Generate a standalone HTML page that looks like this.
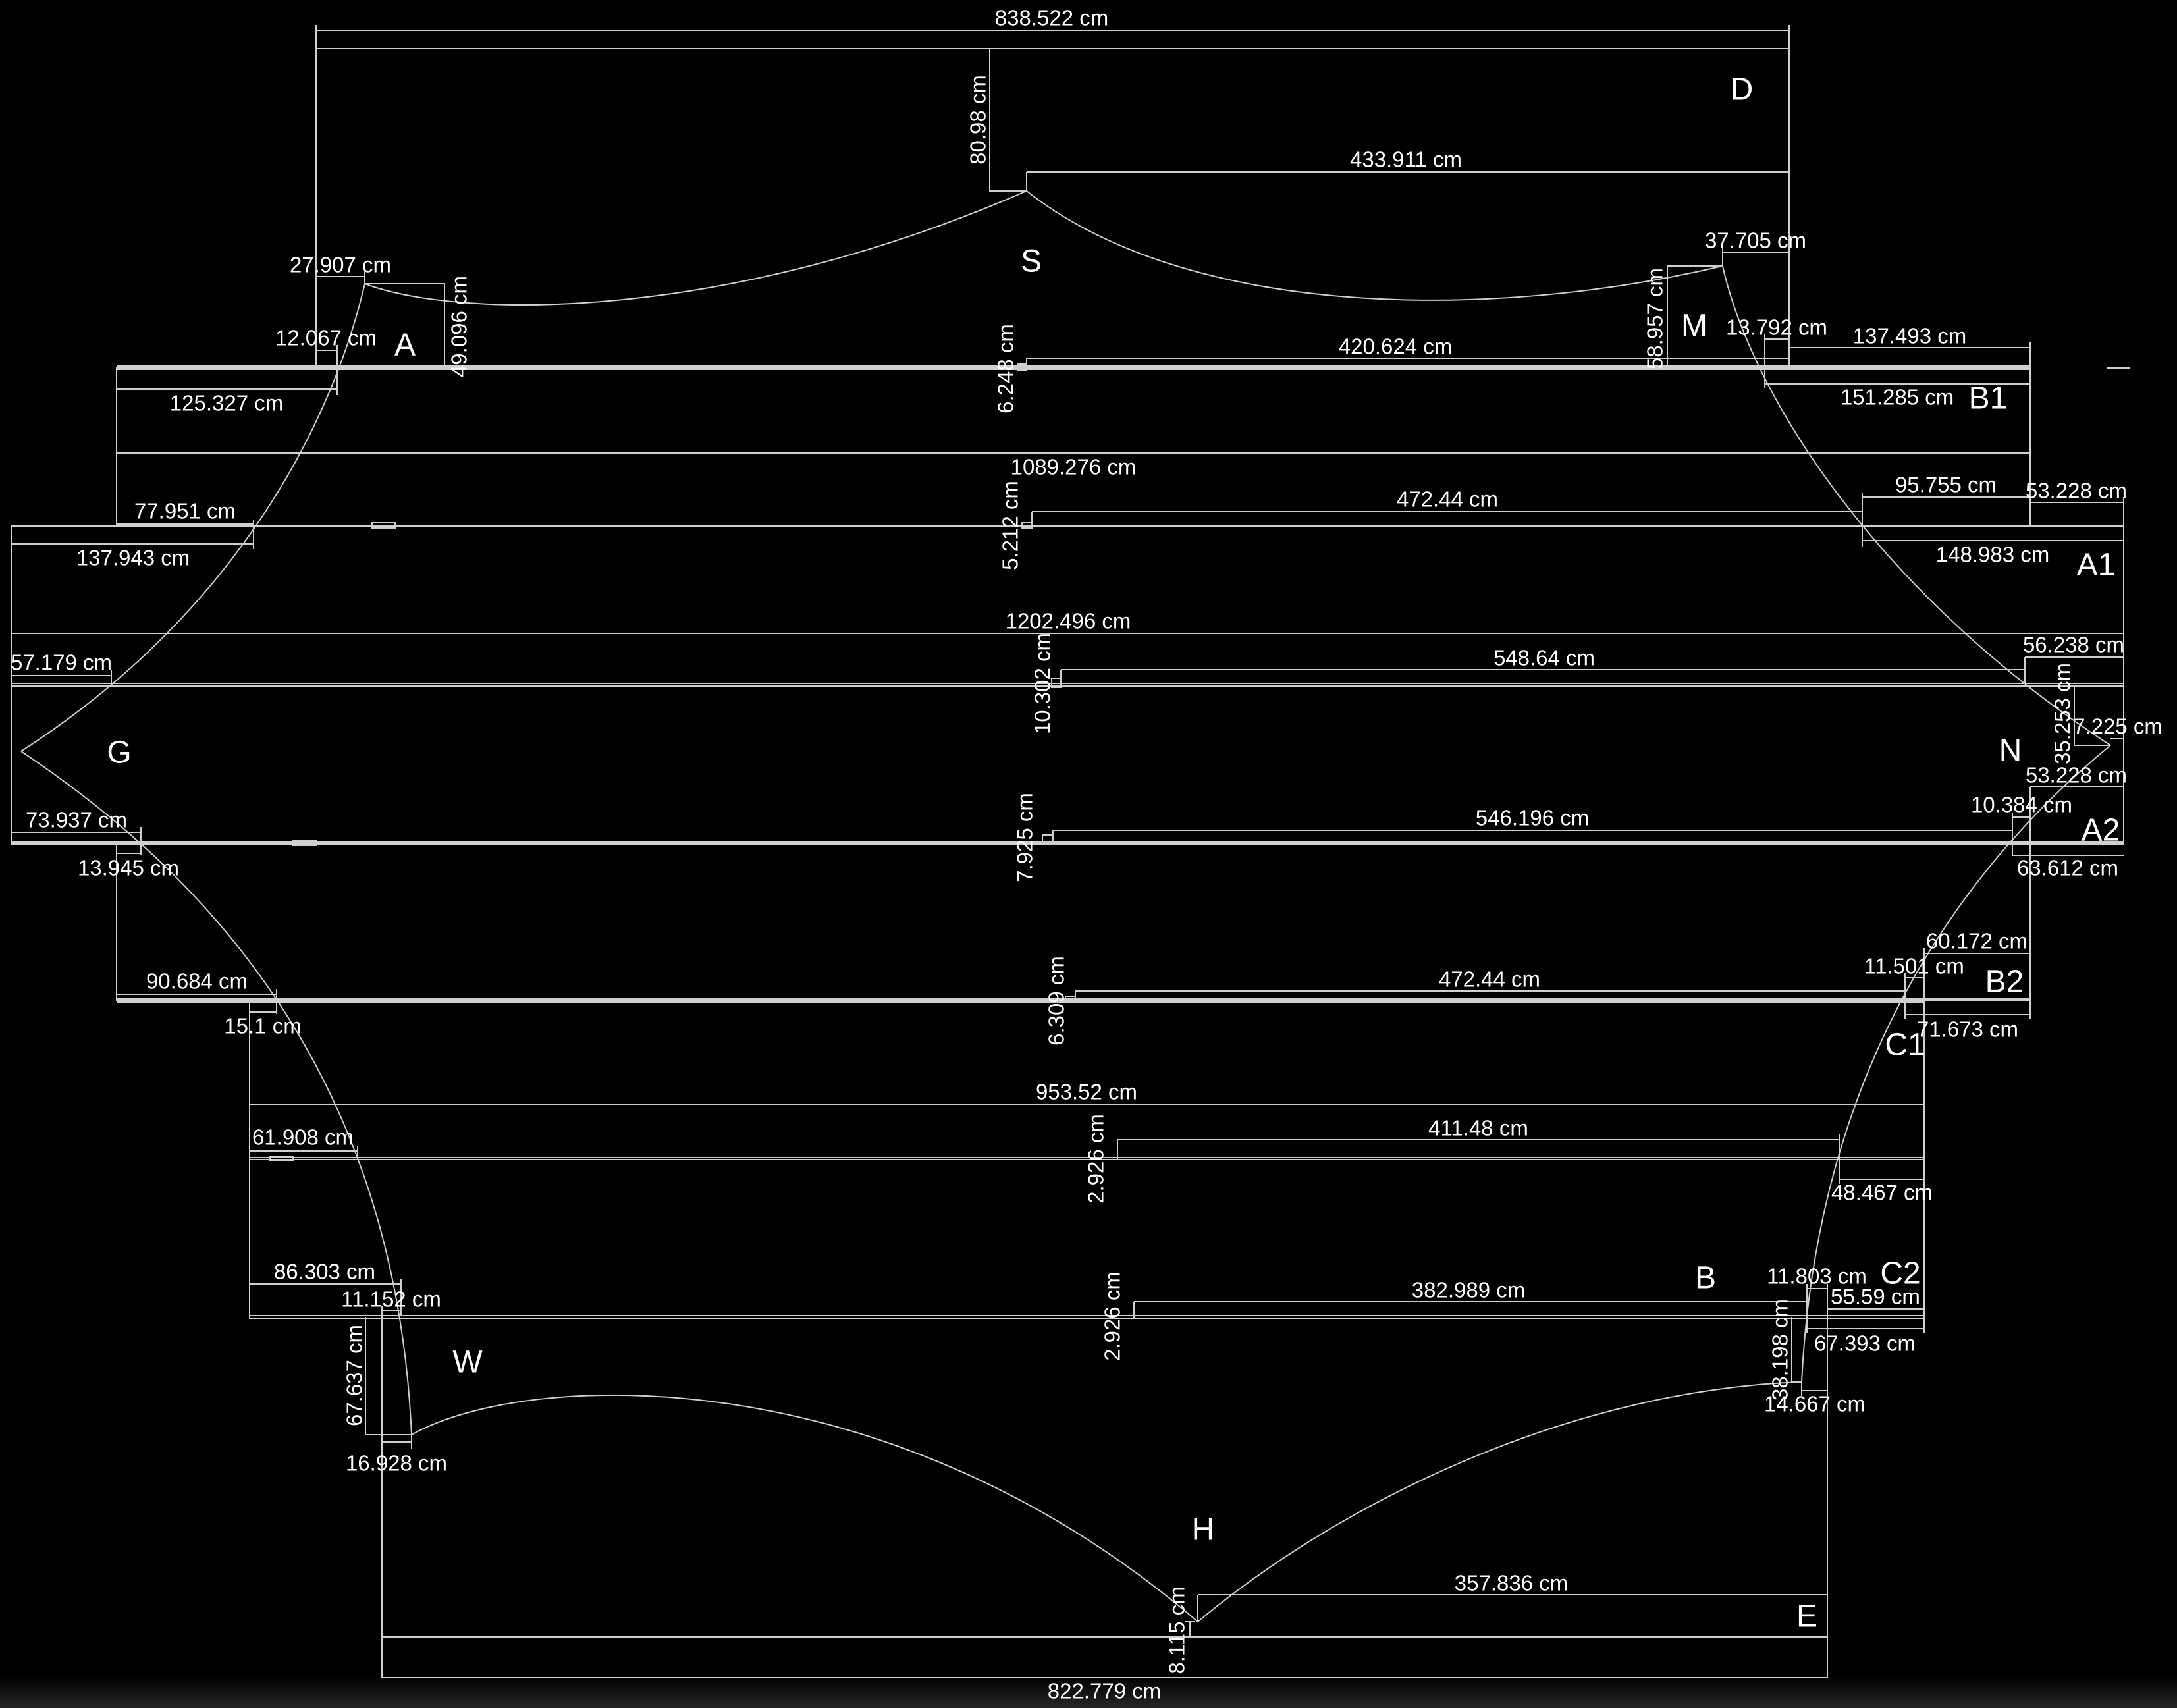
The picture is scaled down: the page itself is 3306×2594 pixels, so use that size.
<!DOCTYPE html>
<html><head><meta charset="utf-8"><style>
html,body{margin:0;padding:0;background:#000;}
svg{display:block;}
text{font-family:"Liberation Sans",sans-serif;fill:#fff;}
.d{font-size:33px;}
.l{font-size:48px;}
</style></head><body>
<svg width="3306" height="2594" viewBox="0 0 3306 2594" xmlns="http://www.w3.org/2000/svg">
<defs><linearGradient id="g" x1="0" y1="0" x2="0" y2="1"><stop offset="0" stop-color="#000"/><stop offset="1" stop-color="#262626"/></linearGradient></defs>
<rect width="3306" height="2594" fill="#000"/>
<rect x="0" y="2545" width="3306" height="49" fill="url(#g)"/>
<g fill="none" stroke="#cfcfcf" stroke-width="2">
<rect x="480" y="74" width="2237" height="485"/>
<line x1="480" y1="46" x2="2717" y2="46"/><line x1="480" y1="38" x2="480" y2="74"/><line x1="2717" y1="38" x2="2717" y2="74"/>
<polyline points="1503,74 1503,290 1559,290"/>
<line x1="1559" y1="261" x2="2717" y2="261"/><line x1="1559" y1="261" x2="1559" y2="290"/>
<line x1="480" y1="420" x2="554" y2="420"/><line x1="554" y1="412" x2="554" y2="431"/>
<polyline points="554,431 675,431 675,559"/>
<line x1="480" y1="532" x2="512" y2="532"/><line x1="512" y1="524" x2="512" y2="600"/>
<line x1="177" y1="591" x2="512" y2="591"/>
<polyline points="2616,404 2532,404 2532,559"/>
<line x1="2616" y1="383" x2="2717" y2="383"/><line x1="2616" y1="375" x2="2616" y2="404"/>
<line x1="2680" y1="515" x2="2717" y2="515"/><line x1="2680" y1="508" x2="2680" y2="590"/>
<line x1="2680" y1="583" x2="3083" y2="583"/>
<line x1="2717" y1="528" x2="3083" y2="528"/><line x1="3083" y1="520" x2="3083" y2="559"/>
<line x1="3200" y1="559" x2="3235" y2="559"/>
<line x1="177" y1="556" x2="3083" y2="556"/><line x1="177" y1="561" x2="3083" y2="561"/>
<line x1="1559" y1="544" x2="2717" y2="544"/><line x1="1559" y1="544" x2="1559" y2="561"/>
<rect x="1545" y="553" width="14" height="10"/>
<rect x="177" y="559" width="2906" height="240"/>
<line x1="177" y1="688" x2="3083" y2="688"/>
<line x1="177" y1="796" x2="385" y2="796"/>
<line x1="17" y1="826" x2="385" y2="826"/><line x1="385" y1="790" x2="385" y2="834"/>
<line x1="2828" y1="755" x2="3083" y2="755"/><line x1="2828" y1="748" x2="2828" y2="830"/>
<line x1="2828" y1="821" x2="3225" y2="821"/>
<line x1="3083" y1="763" x2="3225" y2="763"/><line x1="3225" y1="755" x2="3225" y2="799"/>
<line x1="1567" y1="777" x2="2828" y2="777"/><line x1="1567" y1="777" x2="1567" y2="799"/>
<rect x="1552" y="794" width="15" height="8"/>
<rect x="565" y="794" width="35" height="8"/>
<rect x="17" y="799" width="3208" height="481"/>
<line x1="17" y1="962" x2="3225" y2="962"/>
<line x1="17" y1="1038" x2="3225" y2="1038"/><line x1="17" y1="1042" x2="3225" y2="1042"/>
<line x1="17" y1="1026" x2="169" y2="1026"/><line x1="169" y1="1018" x2="169" y2="1038"/>
<line x1="3075" y1="998" x2="3225" y2="998"/><line x1="3075" y1="998" x2="3075" y2="1038"/>
<line x1="1611" y1="1017" x2="3075" y2="1017"/><line x1="1611" y1="1017" x2="1611" y2="1042"/>
<rect x="1597" y="1030" width="14" height="14"/>
<polyline points="3150,1042 3150,1132 3205,1132"/>
<line x1="3205" y1="1122" x2="3225" y2="1122"/>
<line x1="3083" y1="1195" x2="3225" y2="1195"/><line x1="3083" y1="1195" x2="3083" y2="1300"/>
<line x1="3056" y1="1241" x2="3083" y2="1241"/><line x1="3056" y1="1234" x2="3056" y2="1300"/>
<line x1="3056" y1="1299" x2="3225" y2="1299"/>
<line x1="17" y1="1264" x2="214" y2="1264"/><line x1="214" y1="1256" x2="214" y2="1298"/>
<line x1="1599" y1="1261" x2="3056" y2="1261"/><line x1="1599" y1="1261" x2="1599" y2="1282"/>
<rect x="1583" y="1268" width="16" height="14"/>
<rect x="445" y="1276" width="35" height="8"/>
<line x1="17" y1="1278" x2="3225" y2="1278"/><line x1="17" y1="1282" x2="3225" y2="1282"/>
<rect x="177" y="1282" width="2906" height="238"/>
<line x1="177" y1="1296" x2="214" y2="1296"/>
<line x1="177" y1="1510" x2="420" y2="1510"/><line x1="420" y1="1502" x2="420" y2="1540"/>
<line x1="1633" y1="1505" x2="2893" y2="1505"/><line x1="1633" y1="1505" x2="1633" y2="1522"/>
<rect x="1618" y="1513" width="15" height="10"/>
<line x1="177" y1="1517" x2="3083" y2="1517"/><line x1="177" y1="1522" x2="2922" y2="1522"/>
<line x1="2922" y1="1448" x2="3083" y2="1448"/><line x1="2922" y1="1440" x2="2922" y2="1519"/>
<line x1="2893" y1="1485" x2="2922" y2="1485"/><line x1="2893" y1="1478" x2="2893" y2="1548"/>
<line x1="2893" y1="1541" x2="3083" y2="1541"/><line x1="3083" y1="1520" x2="3083" y2="1548"/>
<line x1="379" y1="1537" x2="420" y2="1537"/>
<rect x="379" y="1519" width="2543" height="483"/>
<line x1="379" y1="1677" x2="2922" y2="1677"/>
<line x1="379" y1="1758" x2="2922" y2="1758"/><line x1="379" y1="1761" x2="2922" y2="1761"/>
<line x1="379" y1="1748" x2="543" y2="1748"/><line x1="543" y1="1740" x2="543" y2="1758"/>
<rect x="410" y="1756" width="35" height="7"/>
<line x1="1697" y1="1731" x2="2793" y2="1731"/><line x1="1697" y1="1731" x2="1697" y2="1761"/>
<line x1="2793" y1="1723" x2="2793" y2="1798"/><line x1="2793" y1="1791" x2="2922" y2="1791"/>
<line x1="379" y1="1950" x2="609" y2="1950"/><line x1="609" y1="1942" x2="609" y2="1998"/>
<line x1="580" y1="1990" x2="609" y2="1990"/><line x1="580" y1="1984" x2="580" y2="1998"/>
<line x1="1722" y1="1977" x2="2744" y2="1977"/><line x1="1722" y1="1977" x2="1722" y2="2002"/>
<line x1="2744" y1="1957" x2="2775" y2="1957"/><line x1="2744" y1="1950" x2="2744" y2="2025"/>
<line x1="2775" y1="1950" x2="2775" y2="1998"/>
<line x1="2775" y1="1988" x2="2922" y2="1988"/>
<line x1="379" y1="1998" x2="2922" y2="1998"/>
<line x1="2742" y1="2018" x2="2922" y2="2018"/><line x1="2922" y1="2002" x2="2922" y2="2025"/>
<rect x="580" y="1998" width="2195" height="550"/>
<line x1="580" y1="2486" x2="2775" y2="2486"/>
<polyline points="555,2000 555,2179 625,2179"/>
<line x1="580" y1="2190" x2="625" y2="2190"/><line x1="625" y1="2179" x2="625" y2="2200"/>
<polyline points="2721,2000 2721,2099 2736,2099"/>
<line x1="2736" y1="2112" x2="2775" y2="2112"/><line x1="2736" y1="2099" x2="2736" y2="2120"/>
<line x1="1819" y1="2422" x2="2775" y2="2422"/><line x1="1819" y1="2422" x2="1819" y2="2463"/>
<line x1="1807" y1="2463" x2="1807" y2="2486"/><line x1="1800" y1="2463" x2="1815" y2="2463"/>
<path d="M554,431 C505,640 360,930 32,1141"/>
<path d="M32,1141 C300,1320 600,1620 625,2179"/>
<path d="M2616,404 C2660,600 2850,900 3205,1132"/>
<path d="M3205,1132 C3000,1300 2760,1600 2736,2099"/>
<path d="M554,431 C700,485 1100,490 1559,290"/>
<path d="M1559,290 C1800,480 2250,490 2616,404"/>
<path d="M625,2179 C800,2080 1350,2060 1819,2463"/>
<path d="M1819,2463 C2050,2270 2400,2110 2736,2099"/>
</g>
<g class="d" text-anchor="middle" dominant-baseline="central">
<text x="1597" y="27">838.522 cm</text>
<text x="1485" y="182" transform="rotate(-90 1485 182)">80.98 cm</text>
<text x="2135" y="242">433.911 cm</text>
<text x="517" y="402">27.907 cm</text>
<text x="495" y="513">12.067 cm</text>
<text x="697" y="496" transform="rotate(-90 697 496)">49.096 cm</text>
<text x="344" y="612">125.327 cm</text>
<text x="1527" y="560" transform="rotate(-90 1527 560)">6.248 cm</text>
<text x="2119" y="526">420.624 cm</text>
<text x="2666" y="365">37.705 cm</text>
<text x="2513" y="484" transform="rotate(-90 2513 484)">58.957 cm</text>
<text x="2698" y="497">13.792 cm</text>
<text x="2900" y="510">137.493 cm</text>
<text x="2881" y="603">151.285 cm</text>
<text x="1630" y="709">1089.276 cm</text>
<text x="281" y="776">77.951 cm</text>
<text x="202" y="847">137.943 cm</text>
<text x="1534" y="798" transform="rotate(-90 1534 798)">5.212 cm</text>
<text x="2198" y="758">472.44 cm</text>
<text x="2955" y="736">95.755 cm</text>
<text x="3153" y="745">53.228 cm</text>
<text x="3026" y="842">148.983 cm</text>
<text x="1622" y="943">1202.496 cm</text>
<text x="93" y="1006">57.179 cm</text>
<text x="1583" y="1038" transform="rotate(-90 1583 1038)">10.302 cm</text>
<text x="2345" y="999">548.64 cm</text>
<text x="3149" y="979">56.238 cm</text>
<text x="3132" y="1084" transform="rotate(-90 3132 1084)">35.253 cm</text>
<text x="3216" y="1103">7.225 cm</text>
<text x="3153" y="1177">53.228 cm</text>
<text x="3070" y="1222">10.384 cm</text>
<text x="116" y="1245">73.937 cm</text>
<text x="1556" y="1272" transform="rotate(-90 1556 1272)">7.925 cm</text>
<text x="2327" y="1242">546.196 cm</text>
<text x="195" y="1318">13.945 cm</text>
<text x="3140" y="1318">63.612 cm</text>
<text x="3002" y="1429">60.172 cm</text>
<text x="2907" y="1467">11.501 cm</text>
<text x="299" y="1490">90.684 cm</text>
<text x="1604" y="1520" transform="rotate(-90 1604 1520)">6.309 cm</text>
<text x="2262" y="1487">472.44 cm</text>
<text x="2988" y="1563">71.673 cm</text>
<text x="399" y="1558">15.1 cm</text>
<text x="1650" y="1658">953.52 cm</text>
<text x="460" y="1727">61.908 cm</text>
<text x="1664" y="1760" transform="rotate(-90 1664 1760)">2.926 cm</text>
<text x="2245" y="1713">411.48 cm</text>
<text x="2858" y="1811">48.467 cm</text>
<text x="493" y="1931">86.303 cm</text>
<text x="594" y="1973">11.152 cm</text>
<text x="1689" y="1999" transform="rotate(-90 1689 1999)">2.926 cm</text>
<text x="2230" y="1959">382.989 cm</text>
<text x="2759" y="1938">11.803 cm</text>
<text x="2848" y="1969">55.59 cm</text>
<text x="2832" y="2040">67.393 cm</text>
<text x="2703" y="2050" transform="rotate(-90 2703 2050)">38.198 cm</text>
<text x="2756" y="2132">14.667 cm</text>
<text x="538" y="2089" transform="rotate(-90 538 2089)">67.637 cm</text>
<text x="602" y="2222">16.928 cm</text>
<text x="2295" y="2404">357.836 cm</text>
<text x="1787" y="2476" transform="rotate(-90 1787 2476)">8.115 cm</text>
<text x="1677" y="2568">822.779 cm</text>
</g>
<g class="l" text-anchor="middle" dominant-baseline="central">
<text x="2645" y="136">D</text>
<text x="1566" y="397">S</text>
<text x="615" y="524">A</text>
<text x="2573" y="495">M</text>
<text x="3019" y="605">B1</text>
<text x="3183" y="858">A1</text>
<text x="181" y="1143">G</text>
<text x="3053" y="1140">N</text>
<text x="3190" y="1261">A2</text>
<text x="3044" y="1491">B2</text>
<text x="2893" y="1587">C1</text>
<text x="2886" y="1934">C2</text>
<text x="2590" y="1941">B</text>
<text x="710" y="2069">W</text>
<text x="1827" y="2323">H</text>
<text x="2744" y="2455">E</text>
</g>
</svg>
</body></html>
